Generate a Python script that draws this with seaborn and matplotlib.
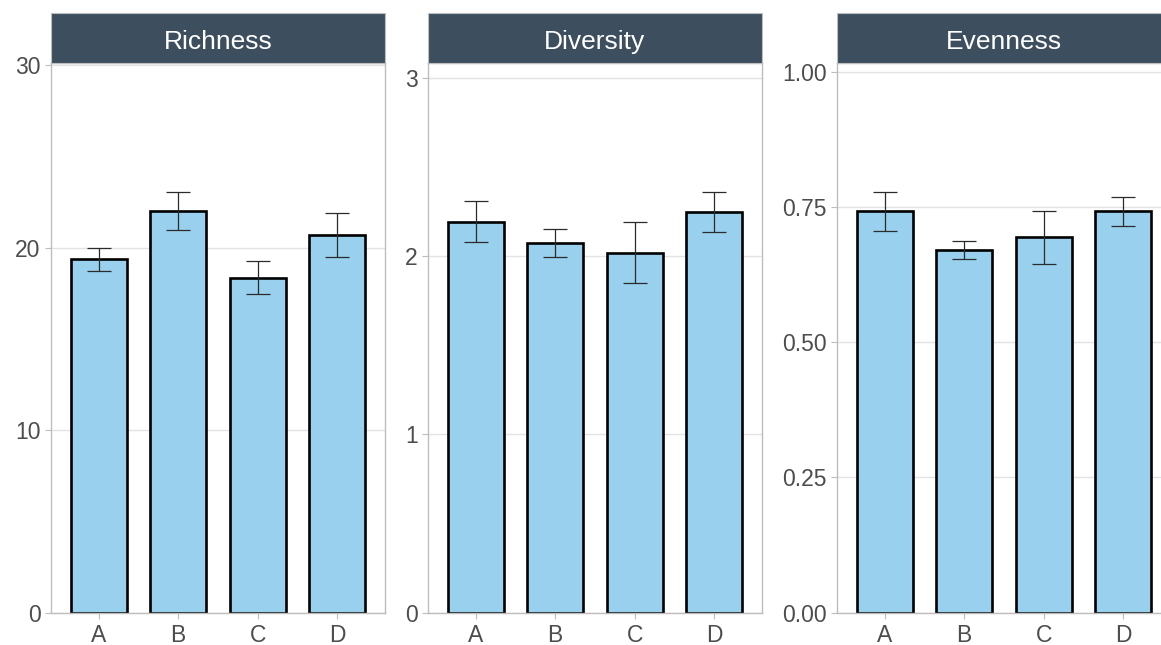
import numpy as np
import pandas as pd
import matplotlib
matplotlib.use("Agg")
import matplotlib.pyplot as plt
from matplotlib.patches import Rectangle
import seaborn as sns

groups = ["A", "B", "C", "D"]

richness_mean = [19.35, 22.0, 18.35, 20.68]
richness_err = [0.64, 1.02, 0.9, 1.2]

diversity_mean = [2.195, 2.075, 2.021, 2.247]
diversity_err = [0.117, 0.078, 0.172, 0.112]

evenness_mean = [0.742, 0.671, 0.694, 0.742]
evenness_err = [0.036, 0.017, 0.049, 0.027]

panel_titles = ["Richness", "Diversity", "Evenness"]
panel_ticks = [[0, 10, 20, 30], [0, 1, 2, 3], [0, 0.25, 0.5, 0.75, 1.0]]
panel_tick_labels = [["0", "10", "20", "30"], ["0", "1", "2", "3"],
                     ["0.00", "0.25", "0.50", "0.75", "1.00"]]
panel_ylim = [30.1, 3.084, 1.016]

df = pd.DataFrame({
    "group": groups * 3,
    "metric": [t for t in panel_titles for _ in groups],
    "mean": richness_mean + diversity_mean + evenness_mean,
    "err": richness_err + diversity_err + evenness_err,
})

sns.set_theme(style="white")
plt.rcParams["font.family"] = ["Liberation Sans", "DejaVu Sans"]

W, H = 1161, 645
fig = plt.figure(figsize=(W / 100, H / 100), dpi=100)

BAR_FILL = "#98d0ee"
STRIP = "#3d4f5f"
BORDER = "#bdbdbd"
GRID = "#e3e3e3"
TEXT = "#4d4d4d"

lefts = [51, 428, 837]
pw = 334
top_px, bottom_px = 63.3, 612.5
strip_h = 50

for i, title in enumerate(panel_titles):
    ax = fig.add_axes([lefts[i] / W, (H - bottom_px) / H, pw / W,
                       (bottom_px - top_px) / H])
    sub = df[df["metric"] == title]
    sns.barplot(data=sub, x="group", y="mean", order=groups, ax=ax,
                color=BAR_FILL, saturation=1, width=0.7, errorbar=None,
                edgecolor="black", linewidth=1.9, zorder=2)
    ax.errorbar(np.arange(len(groups)), sub["mean"].to_numpy(),
                yerr=sub["err"].to_numpy(), fmt="none", ecolor="#2b2b2b",
                elinewidth=0.9, capsize=8.5, capthick=0.9, zorder=3)
    ax.set_xlim(-0.6, len(groups) - 0.4)
    ax.set_ylim(0, panel_ylim[i])
    ax.set_yticks(panel_ticks[i])
    ax.set_yticklabels(panel_tick_labels[i])
    ax.set_xlabel("")
    ax.set_ylabel("")
    ax.yaxis.grid(True, color=GRID, linewidth=1.0, zorder=0)
    ax.xaxis.grid(False)
    ax.set_axisbelow(True)
    for sp in ax.spines.values():
        sp.set_visible(True)
        sp.set_color(BORDER)
        sp.set_linewidth(1.0)
    ax.tick_params(axis="both", which="major", length=4.5, width=0.8,
                   color=BORDER, labelcolor=TEXT, labelsize=16.5,
                   left=True, bottom=True)
    ax.tick_params(axis="y", pad=3)
    ax.tick_params(axis="x", pad=3.5)
    # facet strip
    h = strip_h / (bottom_px - top_px)
    ax.add_patch(Rectangle((0, 1), 1, h, transform=ax.transAxes,
                           facecolor=STRIP, edgecolor=BORDER, linewidth=0.8,
                           clip_on=False, zorder=5))
    ax.text(0.5, 1 + h / 2 - 1.5 / (bottom_px - top_px), title,
            transform=ax.transAxes, ha="center", va="center_baseline",
            color="white", fontsize=19, zorder=6)

fig.savefig("out.png", dpi=100)
